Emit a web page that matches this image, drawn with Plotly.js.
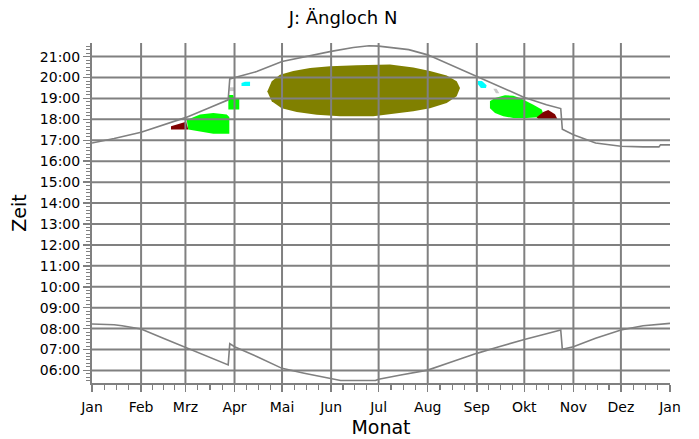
<!DOCTYPE html>
<html>
<head>
<meta charset="utf-8">
<script src="https://cdn.plot.ly/plotly-3.0.1.min.js"></script>
<style>html,body{margin:0;padding:0;background:#fff;}#chart{width:699px;height:439px;}</style>
</head>
<body>
<div id="chart"></div>
<script>
// ---- axis categories ----
const monthLabels = ["Jan","Feb","Mrz","Apr","Mai","Jun","Jul","Aug","Sep","Okt","Nov","Dez","Jan"];
const monthLengths = [31,28,31,30,31,30,31,31,30,31,30,31];
const hourTicks = [6,7,8,9,10,11,12,13,14,15,16,17,18,19,20,21];
const hourLabels = ["06:00","07:00","08:00","09:00","10:00","11:00","12:00","13:00","14:00","15:00","16:00","17:00","18:00","19:00","20:00","21:00"];

// ---- sunset (upper curve): day of year, local time ----
const sunsetDays  = [0, 14, 31, 59, 73, 86, 87, 90, 104, 120, 134, 151, 165, 175, 181, 190, 200, 212, 226, 243, 257, 273, 287, 296, 297, 304, 318, 334, 348, 358, 359, 365];
const sunsetTimes = ["16:52","17:05","17:23","18:05","18:31","18:56","19:56","20:00","20:17","20:46","21:00","21:15","21:26","21:31","21:30","21:26","21:20","21:05","20:37","20:05","19:36","19:03","18:42","18:31","17:32","17:16","16:52","16:43","16:41","16:41","16:47","16:47"];

// ---- sunrise (lower curve) ----
const sunriseDays  = [0, 14, 19, 31, 45, 59, 73, 86, 87, 90, 104, 120, 134, 151, 157, 179, 181, 195, 212, 226, 243, 257, 273, 287, 296, 297, 304, 318, 334, 348, 365];
const sunriseTimes = ["08:13","08:11","08:08","07:59","07:32","07:06","06:40","06:16","07:17","07:08","06:40","06:06","05:52","05:37","05:31","05:31","05:35","05:47","06:01","06:23","06:49","07:08","07:29","07:45","07:56","07:01","07:08","07:32","07:56","08:08","08:15"];

// ---- coloured areas (outlines) ----
const oliveDays  = [110.7,113.5,118.7,127.1,137.7,150.3,167.2,188.2,202.9,213.4,224.0,230.3,232.4,230.3,224.0,213.4,202.9,192.4,177.6,156.6,141.9,129.3,119.8,113.5];
const oliveTimes = ["19:20","19:49","20:08","20:19","20:27","20:32","20:35","20:37","20:29","20:19","20:06","19:49","19:30","19:06","18:47","18:32","18:23","18:18","18:09","18:09","18:13","18:21","18:32","18:52"];

const greenLeftDays  = [59.8,68.2,76.6,85.1,86.7,86.7,76.6,63.8,60.8];
const greenLeftTimes = ["17:58","18:14","18:18","18:14","18:07","17:19","17:19","17:28","17:31"];

const greenSmallDays  = [86.1,89.2,89.7,93.0,93.0,89.7,86.1];
const greenSmallTimes = ["19:10","19:10","19:01","19:01","18:28","18:28","18:28"];

const greenRightDays  = [251.3,254.5,260.8,266.0,270.3,274.5,278.7,284.0,285.0,281.8,274.5,266.0,259.7,254.5,251.3];
const greenRightTimes = ["18:52","19:01","19:09","19:08","19:01","18:52","18:42","18:28","18:15","18:06","18:04","18:04","18:09","18:18","18:32"];

const redLeftDays  = [49.9,59.4,60.8,49.9];
const redLeftTimes = ["17:40","17:53","17:31","17:31"];

const redRightDays  = [280.8,285.0,288.1,292.4,293.9,287.1,281.8];
const redRightTimes = ["18:06","18:21","18:27","18:15","18:01","18:01","18:01"];

const cyanLeftDays  = [94.4,96.6,99.8,99.8,94.4];
const cyanLeftTimes = ["19:44","19:48","19:48","19:36","19:36"];

const cyanRightDays  = [243.7,246.3,249.2,248.8,245.6,243.7];
const cyanRightTimes = ["19:50","19:50","19:38","19:30","19:30","19:41"];

const grayLeftDays  = [86.8,90.0,90.0,86.8];
const grayLeftTimes = ["19:32","19:32","19:21","19:21"];

const grayRightDays  = [253.4,255.5,257.2,255.1];
const grayRightTimes = ["19:28","19:28","19:15","19:15"];

// ---- helpers ----
const toH = s => { const p = s.split(":").map(Number); return p[0] + p[1] / 60; };
const monthStarts = [0];
monthLengths.forEach(l => monthStarts.push(monthStarts[monthStarts.length - 1] + l));
const minorX = [];
monthLengths.forEach((l, i) => { for (let k = 1; k < 4; k++) minorX.push(monthStarts[i] + l * k / 4); });

const yRange = [5.40, 21.65];
const xRange = [0, 365];
const GRAY = "#808080";

function area(days, times, color) {
  return {
    x: days.concat([days[0]]), y: times.concat([times[0]]).map(toH),
    type: "scatter", mode: "lines", fill: "toself", fillcolor: color,
    line: { width: 0, color: color }, hoverinfo: "skip", showlegend: false
  };
}

// grid drawn above the coloured areas
const gx = [], gy = [];
monthStarts.slice(1, 12).forEach(d => { gx.push(d, d, null); gy.push(yRange[0], yRange[1], null); });
hourTicks.forEach(h => { gx.push(xRange[0], xRange[1], null); gy.push(h, h, null); });

const traces = [
  area(oliveDays, oliveTimes, "#808000"),
  area(greenLeftDays, greenLeftTimes, "#00ff00"),
  area(greenSmallDays, greenSmallTimes, "#00ff00"),
  area(greenRightDays, greenRightTimes, "#00ff00"),
  area(redLeftDays, redLeftTimes, "#800000"),
  area(redRightDays, redRightTimes, "#800000"),
  area(cyanLeftDays, cyanLeftTimes, "#00ffff"),
  area(cyanRightDays, cyanRightTimes, "#00ffff"),
  area(grayLeftDays, grayLeftTimes, "#c8c8c8"),
  area(grayRightDays, grayRightTimes, "#c8c8c8"),
  { x: gx, y: gy, type: "scatter", mode: "lines", line: { color: GRAY, width: 2 }, hoverinfo: "skip", showlegend: false, connectgaps: false },
  { x: sunsetDays, y: sunsetTimes.map(toH), type: "scatter", mode: "lines", line: { color: GRAY, width: 1.6 }, hoverinfo: "skip", showlegend: false },
  { x: sunriseDays, y: sunriseTimes.map(toH), type: "scatter", mode: "lines", line: { color: GRAY, width: 1.6 }, hoverinfo: "skip", showlegend: false }
];

const layout = {
  width: 699, height: 439,
  margin: { l: 92, r: 29, t: 43, b: 56 },
  paper_bgcolor: "#ffffff", plot_bgcolor: "#ffffff",
  font: { family: "DejaVu Sans", color: "#000000", size: 14 },
  title: { text: "J: Ängloch N", x: 343 / 699, xref: "container", xanchor: "center", y: 1 - 18 / 439, yref: "container", yanchor: "middle", font: { family: "DejaVu Sans", size: 18, color: "#000" } },
  xaxis: {
    range: xRange, showgrid: false, zeroline: false,
    showline: true, linecolor: GRAY, linewidth: 2,
    tickmode: "array", tickvals: monthStarts, ticktext: monthLabels,
    ticks: "outside", ticklen: 7, tickwidth: 1.5, tickcolor: GRAY,
    ticklabelstandoff: 3,
    tickfont: { family: "DejaVu Sans", size: 14, color: "#000" },
    minor: { tickmode: "array", tickvals: minorX, ticks: "outside", ticklen: 5, tickwidth: 1.2, tickcolor: GRAY, showgrid: false },
    title: { text: "Monat", font: { family: "DejaVu Sans", size: 19, color: "#000" }, standoff: 7 }
  },
  yaxis: {
    range: yRange, showgrid: false, zeroline: false,
    showline: true, linecolor: GRAY, linewidth: 2,
    tickmode: "array", tickvals: hourTicks, ticktext: hourLabels,
    ticks: "outside", ticklen: 7, tickwidth: 1.5, tickcolor: GRAY,
    tickfont: { family: "DejaVu Sans", size: 14, color: "#000" },
    minor: { tickmode: "linear", tick0: 0, dtick: 1 / 6, ticks: "outside", ticklen: 4, tickwidth: 1, tickcolor: GRAY, showgrid: false },
    title: { text: "Zeit", font: { family: "DejaVu Sans", size: 19, color: "#000" }, standoff: 8 }
  }
};

Plotly.newPlot("chart", traces, layout, { staticPlot: true, displayModeBar: false });
</script>
</body>
</html>
